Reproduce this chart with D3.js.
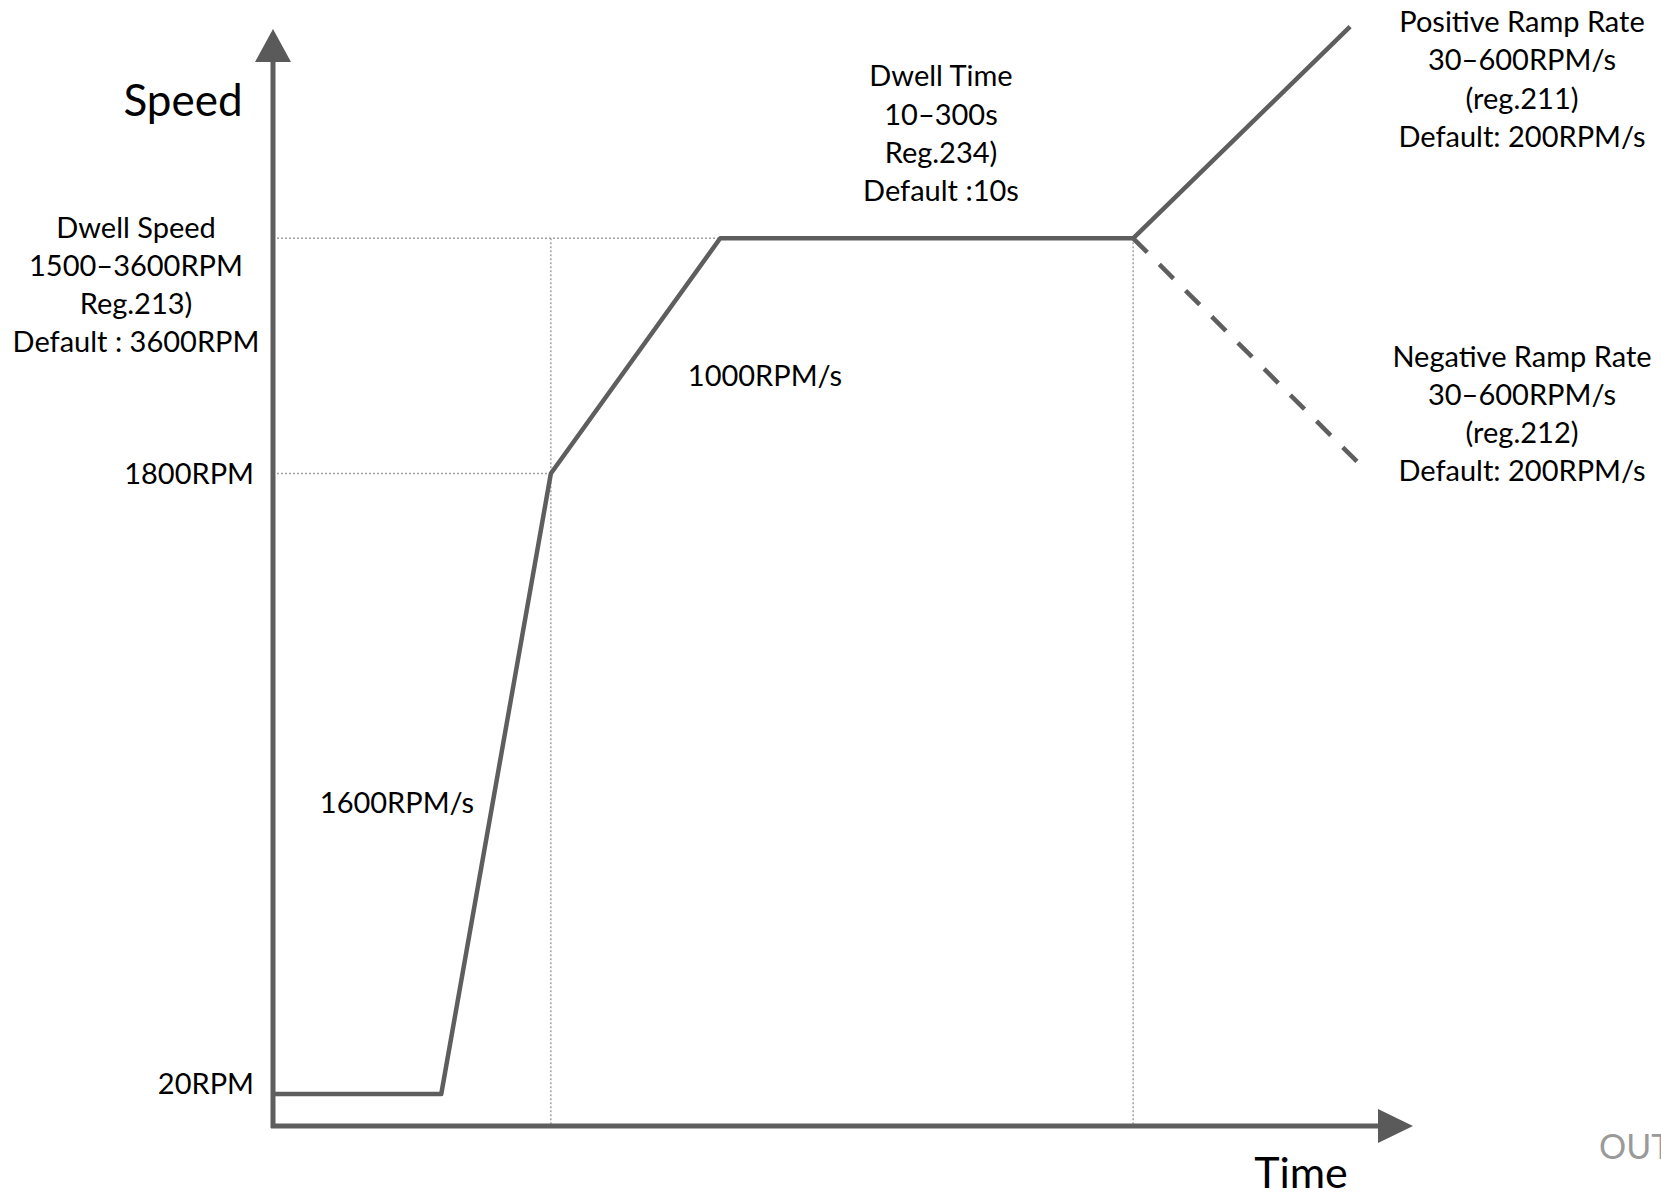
<!DOCTYPE html>
<html>
<head>
<meta charset="utf-8">
<script src="https://cdn.jsdelivr.net/npm/d3@7"></script>
<style>
  body { margin: 0; background: #fff; }
  svg text { font-family: Lato, "Open Sans", sans-serif; fill: #000; }
</style>
</head>
<body>
<div id="chart"></div>
<script>
// speed profile (schematic time units, RPM)
var profileTimes  = [0, 15.2, 25.1, 40.4, 77.7, 97.3];
var profileSpeeds = [20, 20, 1800, 3600, 3600, 5220];
// negative ramp branch (dashed)
var negTimes  = [77.7, 98.3];
var negSpeeds = [3600, 1860];
// y tick labels
var tickSpeeds = [20, 1800];
var tickLabels = ["20RPM", "1800RPM"];
// guide lines
var guideSpeeds = [1800, 3600];
var guideTimes  = [25.1, 77.7];

var dwellSpeedText = ["Dwell Speed", "1500\u20133600RPM", "Reg.213)", "Default : 3600RPM"];
var dwellTimeText  = ["Dwell Time", "10\u2013300s", "Reg.234)", "Default :10s"];
var posRampText    = ["Positive Ramp Rate", "30\u2013600RPM/s", "(reg.211)", "Default: 200RPM/s"];
var negRampText    = ["Negative Ramp Rate", "30\u2013600RPM/s", "(reg.212)", "Default: 200RPM/s"];
var rampLabels     = ["1600RPM/s", "1000RPM/s"];

var WIDTH = 1661, HEIGHT = 1196;
var LINE_COLOR = "#5e5e5e", GUIDE_COLOR = "#a0a0a0";
var FONT = "29px";

var svg = d3.select("#chart").append("svg")
    .attr("width", WIDTH)
    .attr("height", HEIGHT);

// x: schematic time, y: piecewise speed scale (not to scale in the original)
var x = d3.scaleLinear().domain([0, 100]).range([273, 1380]);
var y = d3.scaleLinear().domain([0, 20, 1800, 3600]).range([1126, 1094, 473.5, 238.3]);

var line = d3.line()
    .x(function (d) { return x(d[0]); })
    .y(function (d) { return y(d[1]); });

// dotted guide lines
var g = svg.append("g").attr("class", "guides")
    .attr("stroke", GUIDE_COLOR)
    .attr("stroke-width", 1.5)
    .attr("stroke-dasharray", "2,2");

g.selectAll("line.h")
    .data(guideSpeeds).enter()
    .append("line").attr("class", "h")
    .attr("x1", x(0))
    .attr("x2", function (d, i) { return x(guideTimes[i]); })
    .attr("y1", function (d) { return y(d); })
    .attr("y2", function (d) { return y(d); });

g.selectAll("line.v")
    .data(guideTimes).enter()
    .append("line").attr("class", "v")
    .attr("x1", function (d) { return x(d); })
    .attr("x2", function (d) { return x(d); })
    .attr("y1", y(3600))
    .attr("y2", y(0));

// axes with arrow heads
var axisG = svg.append("g").attr("class", "axes");
axisG.append("line")
    .attr("x1", x(0)).attr("x2", x(0))
    .attr("y1", y(0) + 2).attr("y2", 58)
    .attr("stroke", LINE_COLOR).attr("stroke-width", 5);
axisG.append("line")
    .attr("x1", x(0) - 2).attr("x2", x(100))
    .attr("y1", y(0)).attr("y2", y(0))
    .attr("stroke", LINE_COLOR).attr("stroke-width", 5);
axisG.append("path")
    .attr("d", "M" + x(0) + ",29L" + (x(0) + 18) + ",62L" + (x(0) - 18) + ",62Z")
    .attr("fill", "#5a5a5a");
axisG.append("path")
    .attr("d", "M" + (x(100) + 33) + "," + y(0) + "L" + (x(100) - 2) + "," + (y(0) - 17) +
        "L" + (x(100) - 2) + "," + (y(0) + 17) + "Z")
    .attr("fill", "#5a5a5a");

// speed profile
svg.append("path")
    .datum(d3.zip(profileTimes, profileSpeeds))
    .attr("d", line)
    .attr("fill", "none")
    .attr("stroke", LINE_COLOR)
    .attr("stroke-width", 4.5)
    .attr("stroke-linejoin", "round");

svg.append("path")
    .datum(d3.zip(negTimes, negSpeeds))
    .attr("d", line)
    .attr("fill", "none")
    .attr("stroke", LINE_COLOR)
    .attr("stroke-width", 4.5)
    .attr("stroke-dasharray", "20,17");

// tick labels
svg.selectAll("text.tick")
    .data(tickSpeeds).enter()
    .append("text").attr("class", "tick")
    .attr("x", x(0) - 19)
    .attr("y", function (d, i) { return y(d) - (i === 0 ? 10 : 0); })
    .attr("dy", "0.35em")
    .attr("text-anchor", "end")
    .style("font-size", FONT)
    .text(function (d, i) { return tickLabels[i]; });

// multi-line annotation blocks
function block(lines, cx, cy) {
    svg.append("text")
        .attr("text-anchor", "middle")
        .style("font-size", FONT)
        .selectAll("tspan")
        .data(lines).enter()
        .append("tspan")
        .attr("x", cx)
        .attr("y", function (d, i) { return cy + i * 38.1; })
        .attr("dy", "0.35em")
        .text(function (d) { return d; });
}
block(dwellSpeedText, 136, y(3600) - 10.6);
block(dwellTimeText, 941, 76.3);
block(posRampText, 1522, 22.2);
block(negRampText, 1522, 357);

svg.selectAll("text.rate")
    .data(rampLabels).enter()
    .append("text").attr("class", "rate")
    .attr("x", function (d, i) { return [397, 765][i]; })
    .attr("y", function (d, i) { return [803, 376][i]; })
    .attr("dy", "0.35em")
    .attr("text-anchor", "middle")
    .style("font-size", FONT)
    .text(function (d) { return d; });

// axis titles
svg.append("text")
    .attr("x", 183).attr("y", 101).attr("dy", "0.35em")
    .attr("text-anchor", "middle")
    .style("font-size", "44px")
    .text("Speed");
svg.append("text")
    .attr("x", 1301).attr("y", 1173).attr("dy", "0.35em")
    .attr("text-anchor", "middle")
    .style("font-size", "43px")
    .text("Time");

// cut-off watermark at right edge
svg.append("text")
    .attr("x", 1599).attr("y", 1147).attr("dy", "0.35em")
    .style("font-size", "34px")
    .style("fill", "#9a9a9a")
    .text("OUT");
</script>
</body>
</html>
